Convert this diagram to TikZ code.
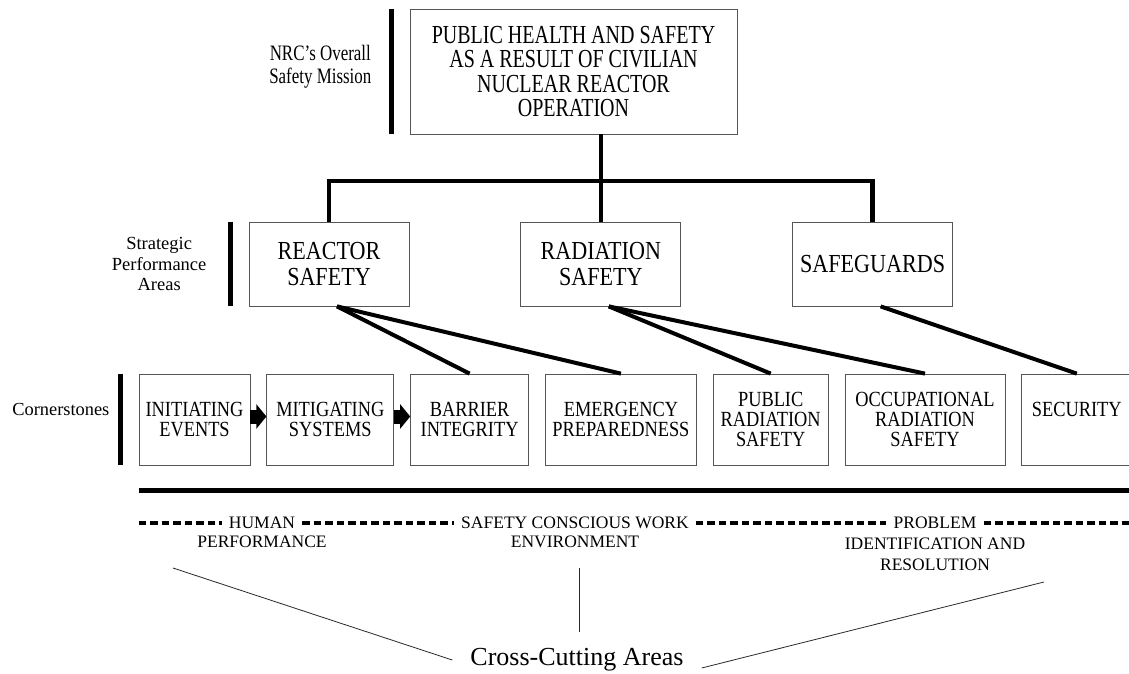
\documentclass[tikz,border=0pt]{standalone}
\usepackage{fontspec}
\setmainfont{Liberation Serif}
\newfontfamily\narrowfont{Liberation Serif}[FakeStretch=0.77]
\newfontfamily\boxfont{Liberation Serif}[FakeStretch=0.85]
\usetikzlibrary{arrows.meta, positioning}
\definecolor{boxLine}{RGB}{85,85,85}
\definecolor{thinLine}{RGB}{40,40,40}

\begin{document}
\begin{tikzpicture}[
    x=1pt, y=-1pt,
    mission/.style={draw=boxLine, line width=0.8pt, minimum width=327pt, minimum height=125pt, inner sep=0pt, align=center, font=\narrowfont\fontsize{26}{24.5}\selectfont},
    area/.style={draw=boxLine, line width=0.8pt, minimum width=160pt, minimum height=84pt, inner sep=0pt, align=center, font=\boxfont\fontsize{26}{25.6}\selectfont},
    corner/.style={draw=boxLine, line width=0.8pt, minimum height=91pt, inner sep=0pt, align=center, font=\boxfont\fontsize{21.6}{20}\selectfont},
    tier/.style={inner sep=0pt, align=center},
    cross/.style={inner xsep=7pt, inner ysep=3pt, align=center, font=\fontsize{17.5}{21}\selectfont},
    tree/.style={line width=4.5pt},
    branch/.style={line width=4pt},
    bar/.style={line width=5pt},
    push/.style={line width=14pt, -{Triangle[length=10pt, width=24pt]}},
    dashrule/.style={line width=3.5pt, dash pattern=on 7.5pt off 4pt},
    feed/.style={draw=thinLine, line width=0.8pt}
]
    \useasboundingbox (0,0) rectangle (1129,674);

    \node[mission] (top) at (573.5,71.5) {PUBLIC HEALTH AND SAFETY\\AS A RESULT OF CIVILIAN\\NUCLEAR REACTOR\\OPERATION};
    \node[tier, font=\narrowfont\fontsize{22}{23}\selectfont, left=38pt of top, yshift=5pt] (nrc) {NRC’s Overall\\Safety Mission};

    \node[area] (rs) at (329,264) {REACTOR\\SAFETY};
    \node[area, right=111pt of rs] (ras) {RADIATION\\SAFETY};
    \node[area, right=111pt of ras] (sg) {SAFEGUARDS};
    \node[tier, font=\fontsize{18.5}{20.5}\selectfont, left=42pt of rs] (spa) {Strategic\\Performance\\Areas};

    \node[corner, minimum width=111pt] (ie) at (194.5,419.5) {INITIATING\\EVENTS};
    \node[corner, minimum width=127pt, right=16pt of ie] (ms) {MITIGATING\\SYSTEMS};
    \node[corner, minimum width=118pt, right=16pt of ms] (bi) {BARRIER\\INTEGRITY};
    \node[corner, minimum width=151pt, right=16pt of bi] (ep) {EMERGENCY\\PREPAREDNESS};
    \node[corner, minimum width=115pt, right=16pt of ep] (prs) {PUBLIC\\RADIATION\\SAFETY};
    \node[corner, minimum width=160pt, right=16pt of prs] (ors) {OCCUPATIONAL\\RADIATION\\SAFETY};
    \node[corner, minimum width=110pt, right=16pt of ors] (sec) {SECURITY\\\phantom{S}};
    \node[tier, font=\fontsize{18.4}{20}\selectfont, left=29pt of ie, yshift=10pt] (cs) {Cornerstones};

    \draw[bar] ([xshift=-18pt]top.north west) -- ([xshift=-18pt]top.south west);
    \draw[bar] ([xshift=-18pt]rs.north west) -- ([xshift=-18pt]rs.south west);
    \draw[bar] ([xshift=-18pt]ie.north west) -- ([xshift=-18pt]ie.south west);

    \coordinate (bus) at (0,181);
    \draw[tree] (rs.north) -- (rs.north |- bus) -- (sg.north |- bus) -- (sg.north);
    \draw[tree] (top.south -| ras.north) -- (ras.north);

    \draw[branch] ([xshift=8pt]rs.south) -- (bi.north);
    \draw[branch] ([xshift=8pt]rs.south) -- (ep.north);
    \draw[branch] ([xshift=8pt]ras.south) -- (prs.north);
    \draw[branch] ([xshift=8pt]ras.south) -- (ors.north);
    \draw[branch] ([xshift=8pt]sg.south) -- (sec.north);

    \draw[push] ([yshift=3pt]ie.east) -- ([yshift=3pt]ms.west);
    \draw[push] ([yshift=3pt]ms.east) -- ([yshift=3pt]bi.west);

    \coordinate (ruleR) at (1129,490);
    \draw[line width=5pt] (ie.west |- ruleR) -- (ruleR);

    \node[cross] (hum) at (262,523) {HUMAN};
    \node[cross, below=1pt of hum] (perf) {PERFORMANCE};
    \node[cross] (scw) at (575,523) {SAFETY CONSCIOUS WORK};
    \node[cross, below=1pt of scw] (env) {ENVIRONMENT};
    \node[cross] (prob) at (935,523) {PROBLEM};
    \node[cross, below=3pt of prob] (idr) {IDENTIFICATION AND\\RESOLUTION};
    \coordinate (dl) at (ie.west |- hum);
    \coordinate (dr) at (1129,523);
    \draw[dashrule] (dl) -- (hum) (hum) -- (scw) (scw) -- (prob) (prob) -- (dr);

    \node[font=\fontsize{26}{30}\selectfont, inner xsep=18pt, inner ysep=16pt] (cc) at (577,660) {Cross-Cutting Areas};
    \coordinate (hpfoot) at (173,568);
    \coordinate (envfoot) at (579,568);
    \coordinate (irfoot) at (1044,582);
    \draw[feed] (hpfoot) -- (cc.west);
    \draw[feed] (envfoot) -- (envfoot |- cc.north);
    \draw[feed] (irfoot) -- ([yshift=-8pt]cc.east);
\end{tikzpicture}
\end{document}
